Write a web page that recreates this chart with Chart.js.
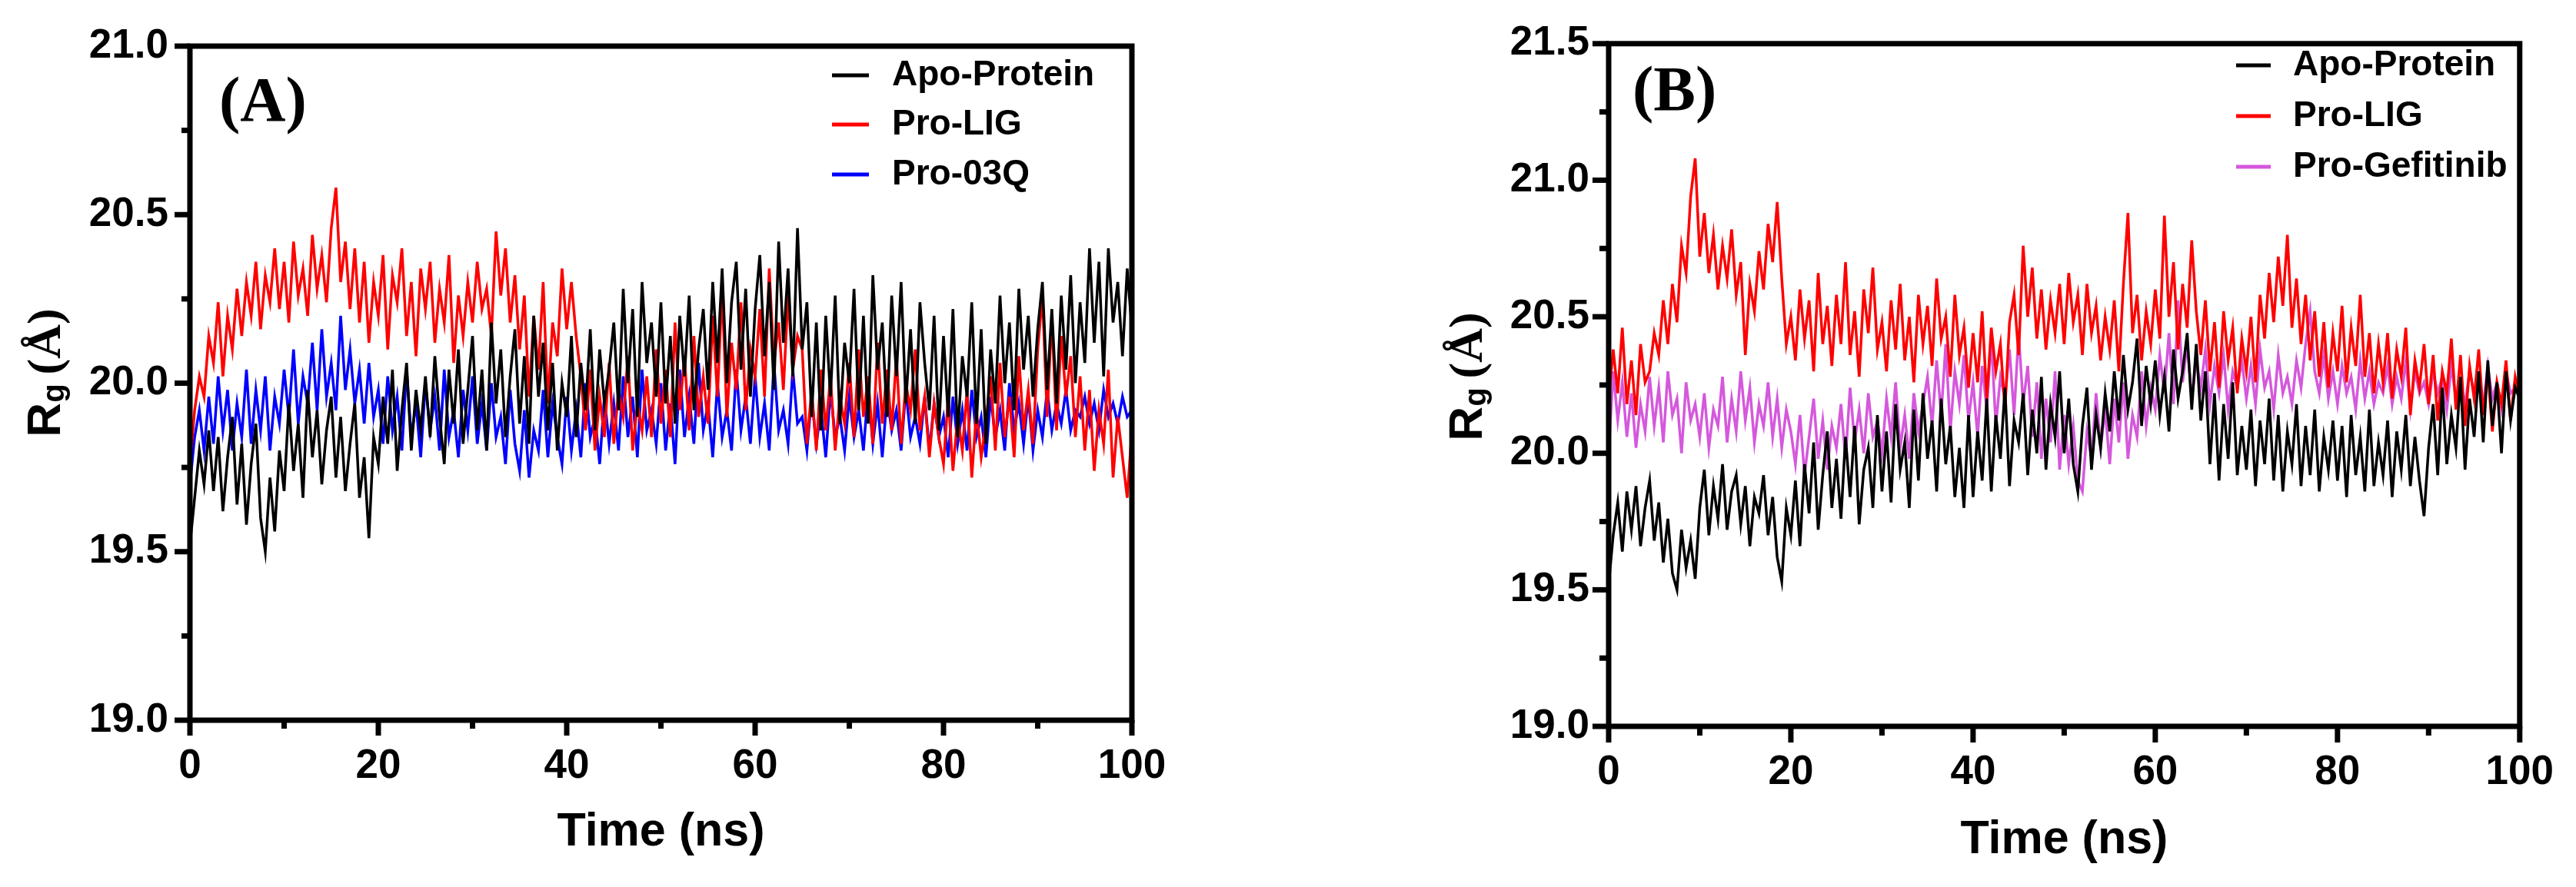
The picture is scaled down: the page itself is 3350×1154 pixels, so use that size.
<!DOCTYPE html>
<html>
<head>
<meta charset="utf-8">
<script src="https://cdn.jsdelivr.net/npm/chart.js@4.4.1/dist/chart.umd.min.js"></script>
<style>
  html, body { margin: 0; padding: 0; background: #fff; }
  #wrap { position: relative; width: 3350px; height: 1154px; overflow: hidden; }
  canvas { position: absolute; top: 0; }
  #rg-a { left: 0; }
  #rg-b { left: 1675px; }
</style>
</head>
<body>
<div id="wrap">
  <canvas id="rg-a" width="1675" height="1154"></canvas>
  <canvas id="rg-b" width="1675" height="1154"></canvas>
</div>
<script>
const TIME_STEP_NS = 0.5;
const TIME_NS = Array.from({ length: 201 }, (_, i) => i * TIME_STEP_NS);

const X_TICKS = [0, 20, 40, 60, 80, 100];
const X_MINOR = [10, 30, 50, 70, 90];
const Y_TICKS_A = [19.0, 19.5, 20.0, 20.5, 21.0];
const Y_MINOR_A = [19.25, 19.75, 20.25, 20.75];
const Y_TICKS_B = [19.0, 19.5, 20.0, 20.5, 21.0, 21.5];
const Y_MINOR_B = [19.25, 19.75, 20.25, 20.75, 21.25];

const LABELS_A = ["Apo-Protein", "Pro-LIG", "Pro-03Q"];
const LABELS_B = ["Apo-Protein", "Pro-LIG", "Pro-Gefitinib"];

// Panel A
const apoA = [
  19.52, 19.66, 19.80, 19.70, 19.86, 19.68, 19.84, 19.62, 19.78, 19.90,
  19.64, 19.82, 19.58, 19.76, 19.88, 19.60, 19.50, 19.72, 19.56, 19.80,
  19.68, 19.94, 19.74, 19.88, 19.66, 19.98, 19.78, 19.92, 19.70, 19.86,
  19.96, 19.72, 19.90, 19.68, 19.82, 19.94, 19.66, 19.78, 19.54, 19.84,
  19.76, 19.96, 19.82, 20.04, 19.74, 19.92, 20.06, 19.80, 19.98, 19.86,
  20.02, 19.84, 20.08, 19.90, 19.76, 20.04, 19.88, 20.10, 19.82, 19.98,
  20.14, 19.86, 20.04, 19.80, 20.18, 19.94, 20.10, 19.84, 20.02, 20.16,
  19.88, 20.08, 19.82, 20.20, 19.96, 20.12, 19.86, 20.06, 19.80, 20.00,
  19.90, 20.14, 19.84, 20.06, 19.92, 20.16, 19.86, 20.10, 19.94, 20.04,
  20.18, 19.92, 20.28, 20.00, 20.22, 19.90, 20.30, 20.06, 20.18, 19.96,
  20.24, 19.94, 20.14, 19.88, 20.20, 20.02, 20.26, 19.92, 20.10, 20.22,
  19.98, 20.30, 20.06, 20.34, 20.00, 20.24, 20.36, 20.04, 20.28, 19.96,
  20.22, 20.38, 20.08, 20.30, 19.98, 20.42, 20.12, 20.34, 20.02, 20.46,
  20.10, 20.24, 19.90, 20.18, 19.86, 20.20, 19.96, 20.26, 19.88, 20.12,
  20.00, 20.28, 19.92, 20.20, 19.88, 20.32, 20.04, 20.18, 19.90, 20.26,
  20.02, 20.30, 19.94, 20.16, 19.88, 20.24, 20.06, 19.92, 20.20, 19.86,
  20.14, 19.90, 20.22, 19.84, 20.08, 19.96, 20.24, 19.88, 20.16, 19.82,
  20.10, 19.94, 20.26, 20.00, 20.18, 19.92, 20.28, 20.04, 20.20, 19.96,
  20.16, 20.30, 19.98, 20.22, 19.94, 20.26, 20.04, 20.32, 20.00, 20.24,
  20.06, 20.40, 20.12, 20.36, 20.02, 20.40, 20.18, 20.30, 20.08, 20.34,
  20.16
];
const ligA = [
  19.76, 19.92, 20.02, 19.96, 20.14, 20.06, 20.24, 20.02, 20.20, 20.10,
  20.28, 20.14, 20.30, 20.20, 20.36, 20.16, 20.32, 20.24, 20.40, 20.22,
  20.36, 20.18, 20.42, 20.26, 20.34, 20.20, 20.44, 20.28, 20.38, 20.24,
  20.46, 20.58, 20.30, 20.42, 20.22, 20.40, 20.18, 20.36, 20.12, 20.30,
  20.20, 20.38, 20.10, 20.32, 20.24, 20.40, 20.14, 20.30, 20.08, 20.34,
  20.22, 20.36, 20.12, 20.28, 20.18, 20.38, 20.06, 20.26, 20.14, 20.30,
  20.18, 20.36, 20.22, 20.28, 20.14, 20.45, 20.26, 20.40, 20.18, 20.32,
  20.10, 20.26, 19.96, 20.20, 20.04, 20.30, 19.94, 20.18, 20.08, 20.34,
  20.16, 20.30, 20.14, 20.02, 19.86, 20.04, 19.80, 19.96, 19.84, 20.06,
  19.82, 19.98, 19.90, 20.08, 19.80, 19.94, 19.86, 20.02, 19.84, 20.10,
  19.88, 20.04, 19.84, 20.18, 19.92, 20.08, 19.86, 20.14, 19.90, 20.02,
  19.88, 20.20, 19.96, 20.28, 19.90, 20.12, 19.98, 20.24, 19.92, 20.10,
  20.02, 20.22, 19.96, 20.34, 20.06, 20.18, 19.98, 20.26, 20.04, 20.14,
  20.10, 19.82, 19.98, 19.80, 20.04, 19.86, 20.02, 19.80, 19.96, 19.88,
  20.06, 19.84, 20.10, 19.90, 20.02, 19.82, 20.12, 19.88, 20.04, 19.86,
  20.08, 19.82, 20.00, 19.92, 20.10, 19.86, 19.96, 19.78, 19.94, 19.84,
  19.76, 19.96, 19.74, 19.90, 19.80, 19.98, 19.72, 19.92, 19.78, 19.88,
  20.02, 19.80, 20.06, 19.84, 19.96, 19.78, 20.08, 19.86, 19.98, 19.82,
  20.10, 20.26, 19.90, 20.20, 19.86, 20.14, 19.96, 20.08, 19.84, 20.02,
  19.80, 19.98, 19.74, 19.92, 19.82, 20.04, 19.72, 19.90, 19.78, 19.66,
  19.86
];
const q03A = [
  19.70, 19.84, 19.92, 19.80, 19.96, 19.82, 20.02, 19.86, 19.98, 19.80,
  19.94, 19.84, 20.04, 19.82, 19.98, 19.86, 20.02, 19.80, 19.96, 19.88,
  20.04, 19.90, 20.10, 19.88, 20.02, 19.94, 20.12, 19.92, 20.16, 19.96,
  20.06, 19.92, 20.20, 19.98, 20.10, 19.94, 20.04, 19.88, 20.06, 19.90,
  19.98, 19.82, 20.02, 19.86, 19.96, 19.80, 20.04, 19.84, 19.94, 19.78,
  20.00, 19.86, 19.96, 19.80, 20.04, 19.84, 19.92, 19.78, 19.98, 19.86,
  20.02, 19.82, 19.94, 19.80, 20.00, 19.84, 19.90, 19.76, 19.98, 19.82,
  19.74, 19.92, 19.72, 19.86, 19.80, 19.98, 19.78, 19.94, 19.84, 19.76,
  19.96, 19.80, 19.92, 19.78, 20.00, 19.84, 19.90, 19.76, 19.96, 19.82,
  19.94, 19.80, 20.02, 19.84, 19.96, 19.78, 20.04, 19.86, 19.92, 19.82,
  20.00, 19.80, 19.94, 19.76, 20.04, 19.84, 19.96, 19.82, 20.06, 19.86,
  19.94, 19.78, 20.00, 19.84, 19.92, 19.80, 20.04, 19.86, 19.96, 19.82,
  20.02, 19.84, 19.94, 19.80, 20.06, 19.86, 19.92, 19.82, 20.04, 19.88,
  19.90, 19.80, 19.96, 19.82, 19.92, 19.78, 19.98, 19.84, 19.90, 19.80,
  19.96, 19.84, 19.92, 19.80, 19.98, 19.82, 19.94, 19.78, 19.96, 19.86,
  19.92, 19.80, 19.98, 19.84, 19.90, 19.82, 19.96, 19.80, 19.94, 19.84,
  19.90, 19.78, 19.96, 19.82, 19.92, 19.80, 19.98, 19.84, 19.90, 19.78,
  19.96, 19.84, 19.92, 19.80, 20.00, 19.86, 19.94, 19.82, 19.96, 19.80,
  19.92, 19.84, 19.98, 19.86, 19.94, 19.88, 19.98, 19.86, 19.92, 19.90,
  19.96, 19.88, 19.94, 19.86, 19.98, 19.90, 19.94, 19.88, 19.96, 19.90,
  19.92
];

// Panel B
const apoB = [
  19.52, 19.70, 19.82, 19.64, 19.86, 19.72, 19.88, 19.66, 19.80, 19.90,
  19.68, 19.82, 19.60, 19.76, 19.56, 19.50, 19.72, 19.58, 19.68, 19.54,
  19.80, 19.94, 19.70, 19.88, 19.76, 19.96, 19.72, 19.86, 19.92, 19.74,
  19.88, 19.66, 19.84, 19.78, 19.92, 19.70, 19.84, 19.62, 19.53, 19.80,
  19.70, 19.90, 19.66, 19.96, 19.78, 20.04, 19.72, 19.92, 20.08, 19.80,
  19.98, 19.76, 20.06, 19.84, 20.10, 19.74, 19.94, 20.02, 19.80, 20.14,
  19.86, 20.08, 19.82, 20.18, 19.94, 20.04, 19.80, 20.16, 19.90, 20.22,
  19.98, 20.12, 19.86, 20.20, 19.96, 20.10, 19.84, 20.02, 19.80, 20.14,
  19.84, 20.08, 19.90, 20.20, 19.86, 20.14, 19.98, 20.24, 19.88, 20.12,
  20.04, 20.22, 19.92, 20.16, 20.00, 20.28, 19.94, 20.18, 20.06, 20.30,
  20.00, 20.20, 19.96, 19.86, 20.10, 20.24, 19.94, 20.14, 20.02, 20.22,
  20.08, 20.30, 20.12, 20.36, 20.16, 20.26, 20.42, 20.10, 20.32, 20.18,
  20.34, 20.14, 20.28, 20.08, 20.38, 20.20, 20.30, 20.44, 20.16, 20.40,
  20.12, 20.30, 19.96, 20.22, 19.90, 20.18, 19.98, 20.26, 19.92, 20.10,
  19.94, 20.16, 19.88, 20.12, 19.96, 20.20, 19.90, 20.14, 19.86, 20.08,
  19.96, 20.18, 19.88, 20.10, 19.92, 20.16, 19.86, 20.06, 19.94, 20.12,
  19.90, 20.10, 19.84, 20.14, 19.92, 20.06, 19.86, 20.16, 19.88, 20.04,
  19.92, 20.12, 19.84, 20.08, 19.94, 20.14, 19.88, 20.06, 19.90, 19.77,
  20.02, 20.18, 19.92, 20.24, 19.96, 20.14, 20.02, 20.28, 19.94, 20.20,
  20.06, 20.30, 20.04, 20.34, 20.10, 20.26, 20.00, 20.30, 20.12, 20.24,
  20.20
];
const ligB = [
  20.20, 20.38, 20.22, 20.46, 20.18, 20.34, 20.14, 20.40, 20.26, 20.30,
  20.44, 20.36, 20.56, 20.40, 20.62, 20.48, 20.76, 20.66, 20.94, 21.08,
  20.72, 20.88, 20.66, 20.80, 20.60, 20.76, 20.64, 20.82, 20.58, 20.70,
  20.36, 20.62, 20.52, 20.74, 20.60, 20.84, 20.70, 20.92, 20.64, 20.40,
  20.50, 20.34, 20.60, 20.42, 20.56, 20.30, 20.66, 20.40, 20.54, 20.32,
  20.58, 20.40, 20.70, 20.36, 20.52, 20.28, 20.60, 20.44, 20.68, 20.38,
  20.48, 20.30, 20.56, 20.38, 20.62, 20.34, 20.50, 20.26, 20.58, 20.40,
  20.54, 20.32, 20.64, 20.42, 20.50, 20.28, 20.58, 20.36, 20.46, 20.24,
  20.44, 20.26, 20.52, 20.20, 20.46, 20.30, 20.40, 20.16, 20.48, 20.58,
  20.36, 20.76, 20.50, 20.68, 20.42, 20.60, 20.38, 20.56, 20.44, 20.62,
  20.40, 20.66, 20.48, 20.58, 20.36, 20.62, 20.44, 20.54, 20.34, 20.50,
  20.38, 20.56, 20.30, 20.62, 20.88, 20.44, 20.58, 20.34, 20.52, 20.40,
  20.60, 20.42, 20.87, 20.50, 20.70, 20.38, 20.62, 20.46, 20.78, 20.52,
  20.36, 20.56, 20.30, 20.48, 20.24, 20.52, 20.34, 20.46, 20.22, 20.42,
  20.30, 20.50, 20.26, 20.58, 20.42, 20.66, 20.48, 20.72, 20.54, 20.80,
  20.46, 20.64, 20.40, 20.58, 20.34, 20.52, 20.28, 20.48, 20.24, 20.44,
  20.30, 20.54, 20.26, 20.46, 20.32, 20.58, 20.28, 20.44, 20.22, 20.40,
  20.26, 20.44, 20.20, 20.38, 20.28, 20.46, 20.14, 20.34, 20.24, 20.40,
  20.18, 20.36, 20.12, 20.30, 20.22, 20.42, 20.16, 20.36, 20.10, 20.32,
  20.20, 20.38, 20.14, 20.30, 20.08, 20.26, 20.18, 20.34, 20.12, 20.28,
  20.20
];
const gefB = [
  20.00, 20.30, 20.12, 20.26, 20.06, 20.22, 20.02, 20.18, 20.08, 20.28,
  20.10, 20.24, 20.04, 20.30, 20.14, 20.20, 20.00, 20.26, 20.12, 20.18,
  20.06, 20.22, 20.02, 20.16, 20.10, 20.28, 20.04, 20.20, 20.08, 20.30,
  20.12, 20.24, 20.04, 20.18, 20.10, 20.26, 20.06, 20.20, 20.02, 20.16,
  20.08, 19.96, 20.14, 19.92, 20.06, 20.20, 19.98, 20.12, 19.94, 20.10,
  20.02, 20.18, 19.98, 20.24, 20.04, 20.16, 20.00, 20.22, 20.06, 20.12,
  20.00, 20.20, 20.06, 20.26, 20.02, 20.14, 19.98, 20.22, 20.08, 20.18,
  20.28, 20.10, 20.34, 20.14, 20.40, 20.08, 20.30, 20.18, 20.36, 20.12,
  20.26, 20.06, 20.32, 20.16, 20.42, 20.10, 20.28, 20.20, 20.38, 20.14,
  20.44, 20.18, 20.32, 20.06, 20.26, 19.98, 20.20, 20.04, 20.30, 19.94,
  20.14, 19.96, 20.10, 19.90, 19.86, 20.08, 19.98, 20.22, 20.02, 20.16,
  19.96, 20.20, 20.04, 20.26, 19.98, 20.14, 20.06, 20.30, 20.10, 20.24,
  20.16, 20.36, 20.22, 20.44, 20.18, 20.56, 20.26, 20.40, 20.20, 20.34,
  20.24, 20.38, 20.18, 20.32, 20.22, 20.36, 20.16, 20.30, 20.24, 20.34,
  20.20, 20.32, 20.18, 20.38, 20.24, 20.30, 20.16, 20.36, 20.22, 20.28,
  20.18, 20.34, 20.24, 20.40, 20.52, 20.30, 20.22, 20.36, 20.20, 20.30,
  20.18, 20.32, 20.22, 20.28, 20.16, 20.34, 20.20, 20.30, 20.18, 20.26,
  20.22, 20.32, 20.18, 20.28, 20.20, 20.34, 20.16, 20.30, 20.22, 20.26,
  20.18, 20.30, 20.22, 20.28, 20.16, 20.32, 20.20, 20.26, 20.18, 20.30,
  20.22, 20.28, 20.18, 20.32, 20.20, 20.26, 20.16, 20.30, 20.22, 20.24,
  20.20
];

const COLORS_A = ["#000000", "#FF0000", "#0000FF"];
const COLORS_B = ["#000000", "#FF0000", "#D558DC"];

const SANS = "'Liberation Sans', Arial, sans-serif";
const SERIF = "'Liberation Serif', 'Times New Roman', serif";

// Frame, tick marks, legend, panel letter and axis titles
const panelDecor = {
  id: "panelDecor",
  afterDatasetsDraw(chart, args, o) {
    const { ctx, chartArea: a, scales } = chart;
    const xs = scales.x, ys = scales.y;
    ctx.save();
    ctx.strokeStyle = "#000";
    ctx.lineWidth = 7;
    ctx.lineCap = "butt";
    ctx.strokeRect(a.left, a.top, a.right - a.left, a.bottom - a.top);

    const tick = (x1, y1, x2, y2) => {
      ctx.beginPath(); ctx.moveTo(x1, y1); ctx.lineTo(x2, y2); ctx.stroke();
    };
    X_TICKS.forEach(v => { const p = xs.getPixelForValue(v); tick(p, a.bottom, p, a.bottom + o.majorLen); });
    X_MINOR.forEach(v => { const p = xs.getPixelForValue(v); tick(p, a.bottom, p, a.bottom + o.minorLen); });
    o.yTicks.forEach(v => { const p = ys.getPixelForValue(v); tick(a.left, p, a.left - o.majorLen, p); });
    o.yMinor.forEach(v => { const p = ys.getPixelForValue(v); tick(a.left, p, a.left - o.minorLen, p); });

    // legend
    ctx.lineWidth = 5;
    ctx.font = "bold 46px " + SANS;
    ctx.textAlign = "left";
    ctx.textBaseline = "middle";
    chart.data.datasets.forEach((ds, i) => {
      const y = o.legendRows[i];
      ctx.strokeStyle = ds.borderColor;
      tick(o.legendLine[0], y, o.legendLine[1], y);
      ctx.fillStyle = "#000";
      ctx.fillText(ds.label, o.legendTextX, y);
    });

    // panel letter
    ctx.font = "bold 82px " + SERIF;
    ctx.textBaseline = "alphabetic";
    ctx.fillText(o.panel, o.panelX, o.panelY);

    // x title
    ctx.font = "bold 61px " + SANS;
    ctx.textAlign = "center";
    ctx.fillText("Time (ns)", (a.left + a.right) / 2, o.xTitleY);

    // y title: R_g (Å)
    ctx.translate(o.yTitleX, o.yTitleY);
    ctx.rotate(-Math.PI / 2);
    ctx.textAlign = "left";
    const fR = "bold 62px " + SANS, fg = "bold 40px " + SANS, fA = "bold 62px " + SERIF;
    ctx.font = fR; const wR = ctx.measureText("R").width;
    ctx.font = fg; const wg = ctx.measureText("g").width;
    ctx.font = fA; const wA = ctx.measureText("(Å)").width;
    const gap = 12;
    let x = -(wR + wg + gap + wA) / 2;
    ctx.font = fR; ctx.fillText("R", x, 0); x += wR;
    ctx.font = fg; ctx.fillText("g", x, 5); x += wg + gap;
    ctx.font = fA; ctx.fillText("(Å)", x, 0);
    ctx.restore();
  }
};

function makeDatasets(labels, colors, series) {
  return series.map((vals, i) => ({
    label: labels[i],
    data: vals.map((v, j) => ({ x: TIME_NS[j], y: v })),
    borderColor: colors[i],
    borderWidth: 3.5,
    pointRadius: 0,
    tension: 0,
    fill: false
  }));
}

function makeChart(id, datasets, yMin, yMax, yTicks, layout, decor) {
  return new Chart(document.getElementById(id), {
    type: "line",
    data: { datasets },
    options: {
      responsive: false,
      animation: false,
      devicePixelRatio: 1,
      layout: { padding: { top: layout.top, right: layout.right, left: 0, bottom: 0 } },
      plugins: { legend: { display: false }, tooltip: { enabled: false }, panelDecor: decor },
      scales: {
        x: {
          type: "linear", min: 0, max: 100,
          grid: { display: false, drawTicks: false },
          border: { display: false },
          afterBuildTicks: s => { s.ticks = X_TICKS.map(v => ({ value: v })); },
          afterFit: s => { s.height = layout.xHeight; },
          ticks: {
            color: "#000", padding: layout.xPad, maxRotation: 0, autoSkip: false,
            font: { family: SANS, size: 53, weight: "bold" },
            callback: v => String(v)
          }
        },
        y: {
          type: "linear", min: yMin, max: yMax,
          grid: { display: false, drawTicks: false },
          border: { display: false },
          afterBuildTicks: s => { s.ticks = yTicks.map(v => ({ value: v })); },
          afterFit: s => { s.width = layout.yWidth; },
          ticks: {
            color: "#000", padding: layout.yPad, autoSkip: false,
            font: { family: SANS, size: 53, weight: "bold" },
            callback: v => v.toFixed(1)
          }
        }
      }
    },
    plugins: [panelDecor]
  });
}

makeChart("rg-a", makeDatasets(LABELS_A, COLORS_A, [apoA, ligA, q03A]), 19, 21, Y_TICKS_A,
  { top: 60, right: 203, yWidth: 247, xHeight: 217, xPad: 29, yPad: 28 },
  { yTicks: Y_TICKS_A, yMinor: Y_MINOR_A, majorLen: 20, minorLen: 11,
    legendRows: [98, 162, 227], legendLine: [1082, 1130], legendTextX: 1160,
    panel: "(A)", panelX: 285, panelY: 157, xTitleY: 1100, yTitleX: 78, yTitleY: 485 });

makeChart("rg-b", makeDatasets(LABELS_B, COLORS_B, [apoB, ligB, gefB]), 19, 21.5, Y_TICKS_B,
  { top: 45, right: 60, yWidth: 417, xHeight: 209, xPad: 29, yPad: 25 },
  { yTicks: Y_TICKS_B, yMinor: Y_MINOR_B, majorLen: 21, minorLen: 12,
    legendRows: [85, 151, 217], legendLine: [1233, 1278], legendTextX: 1307,
    panel: "(B)", panelX: 448, panelY: 143, xTitleY: 1110, yTitleX: 252, yTitleY: 490 });
</script>
</body>
</html>
